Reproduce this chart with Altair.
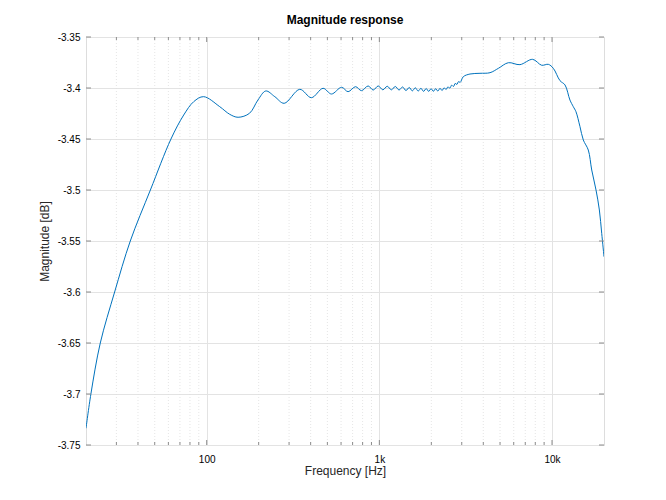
import altair as alt
import pandas as pd

# Frequency response trace
freq = [20, 21.35, 24.2, 29.3, 36.1, 47.2, 62.1, 73.6, 84.1, 96, 119, 136, 152, 177, 198, 220,
        248, 281, 346, 404, 472, 528, 604, 659, 728, 788, 861, 921, 985,
        1048, 1111, 1174, 1237, 1300, 1363, 1426, 1489, 1552, 1615, 1678, 1741, 1804, 1867,
        1930, 1993, 2056, 2119, 2182, 2245, 2308, 2371, 2434, 2497, 2560, 2623, 2686, 2749,
        2812, 2875, 2938, 3064, 3348, 3827, 4375, 4891, 5587, 6520, 7725, 8710, 9520, 10175,
        11120, 11890, 12700, 13280, 13760, 14520, 15180, 16220, 16980, 17980, 18800, 19400, 20000]
mag = [-3.7336, -3.70, -3.65, -3.60, -3.55, -3.50, -3.45, -3.4265, -3.4134, -3.4085,
       -3.4183, -3.4258, -3.4287, -3.4248, -3.4118, -3.4029,
       -3.4085, -3.415, -3.4013, -3.4095, -3.4003, -3.4059, -3.3993, -3.4036, -3.3987, -3.4026,
       -3.398, -3.402, -3.398,
       -3.4018, -3.3983, -3.4018, -3.3985, -3.402, -3.399, -3.4025, -3.3995, -3.4028, -3.3998,
       -3.403, -3.4003, -3.4033, -3.4005, -3.4033, -3.4007, -3.4032, -3.4007, -3.403, -3.4003,
       -3.4025, -3.3998, -3.4015, -3.3988, -3.4002, -3.3972, -3.3985, -3.3955, -3.3965, -3.3937,
       -3.3945, -3.3889, -3.3863, -3.3856, -3.385, -3.3807, -3.3752, -3.3771, -3.3719, -3.3777,
       -3.3768, -3.3807, -3.3928, -3.397, -3.4118, -3.4183, -3.4232, -3.4379, -3.451, -3.4608,
       -3.4804, -3.5, -3.5196, -3.5425, -3.5654]

major_x = [100, 1000, 10000]
minor_x = [30, 40, 50, 60, 70, 80, 90, 200, 300, 400, 500, 600, 700, 800, 900,
           2000, 3000, 4000, 5000, 6000, 7000, 8000, 9000]
y_ticks = [-3.75, -3.7, -3.65, -3.6, -3.55, -3.5, -3.45, -3.4, -3.35]

W, H = 518, 408
FONT = "Liberation Sans"
TXT = "#262626"
AX = "#8c8c8c"

df = pd.DataFrame({"f": freq, "m": mag})
df_major = pd.DataFrame({"f": major_x})
df_minor = pd.DataFrame({"f": minor_x})
df_y = pd.DataFrame({"v": y_ticks})

xscale = alt.Scale(type="log", domain=[20, 20000], nice=False)
yscale = alt.Scale(domain=[-3.75, -3.35], nice=False, zero=False)

minor_grid = alt.Chart(df_minor).mark_rule(color="#dedede", strokeDash=[1, 2], strokeWidth=0.8).encode(
    x=alt.X("f:Q", scale=xscale)
)

line = alt.Chart(df).mark_line(color="#0072BD", strokeWidth=1, interpolate="catmull-rom", clip=True).encode(
    x=alt.X("f:Q", scale=xscale,
            axis=alt.Axis(values=major_x, title="Frequency [Hz]", grid=True, gridColor="#e3e3e3",
                          ticks=False, domain=False, labelPadding=9, titlePadding=1,
                          titleFontWeight="normal", titleFont=FONT, titleFontSize=12, titleColor=TXT,
                          labelExpr="datum.value == 100 ? '100' : (datum.value == 1000 ? '1k' : '10k')")),
    y=alt.Y("m:Q", scale=yscale,
            axis=alt.Axis(values=y_ticks, title="Magnitude [dB]", grid=True, gridColor="#e3e3e3",
                          ticks=False, domain=False, labelPadding=6, titlePadding=6,
                          titleFontWeight="normal", titleFont=FONT, titleFontSize=12, titleColor=TXT,
                          labelExpr="'-' + format(abs(datum.value), '~g')")),
)

tick_major_bottom = alt.Chart(df_major).mark_rule(color=AX).encode(
    x=alt.X("f:Q", scale=xscale), y=alt.value(H), y2=alt.value(H - 5))
tick_major_top = alt.Chart(df_major).mark_rule(color=AX).encode(
    x=alt.X("f:Q", scale=xscale), y=alt.value(0), y2=alt.value(5))
tick_minor_bottom = alt.Chart(df_minor).mark_rule(color=AX).encode(
    x=alt.X("f:Q", scale=xscale), y=alt.value(H), y2=alt.value(H - 3))
tick_minor_top = alt.Chart(df_minor).mark_rule(color=AX).encode(
    x=alt.X("f:Q", scale=xscale), y=alt.value(0), y2=alt.value(3))
tick_y_left = alt.Chart(df_y).mark_rule(color=AX).encode(
    y=alt.Y("v:Q", scale=yscale), x=alt.value(0), x2=alt.value(5))
tick_y_right = alt.Chart(df_y).mark_rule(color=AX).encode(
    y=alt.Y("v:Q", scale=yscale), x=alt.value(W), x2=alt.value(W - 5))

chart = alt.layer(
    minor_grid, line, tick_major_bottom, tick_major_top, tick_minor_bottom, tick_minor_top,
    tick_y_left, tick_y_right
).properties(
    width=W, height=H,
    title=alt.TitleParams("Magnitude response", fontSize=12, fontWeight="bold", font=FONT,
                          color="#000000", offset=5),
    autosize=alt.AutoSizeParams(type="none"),
    padding={"left": 86, "top": 37, "right": 62, "bottom": 55},
).configure_view(
    stroke=AX, strokeWidth=1
).configure_axis(
    labelFont=FONT, labelFontSize=12, labelColor=TXT,
).configure(background="white")

chart.save("out.html", embed_options={"renderer": "svg", "actions": False})
